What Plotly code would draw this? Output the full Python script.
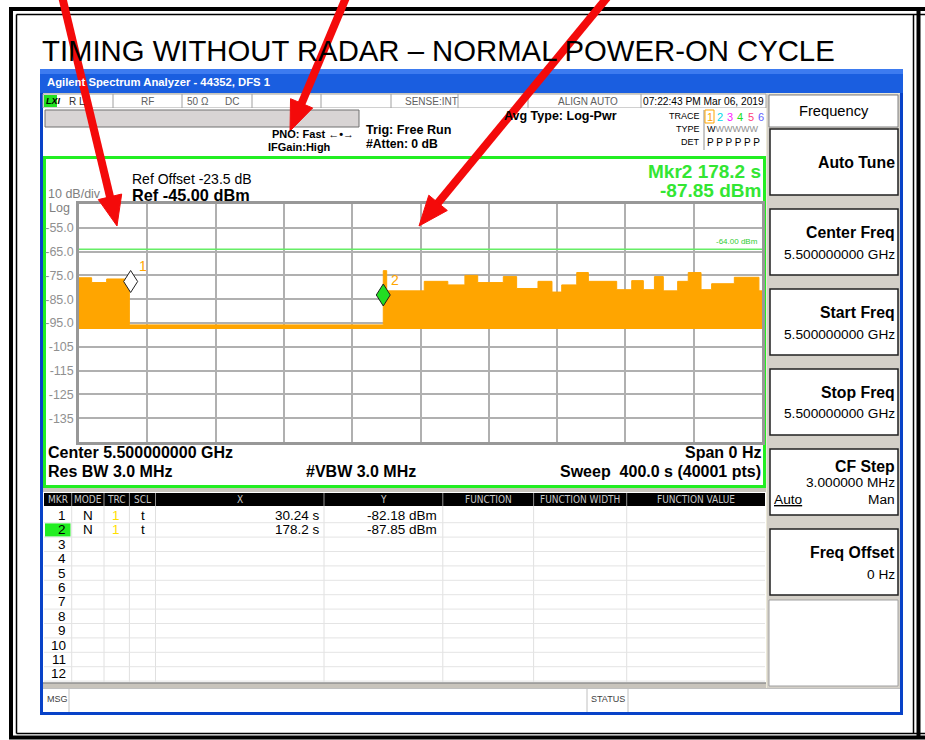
import plotly.graph_objects as go
import numpy as np

W, H = 925, 740

# ---------------- data ----------------
sweep_time_s = 400.0
y_top_dbm, y_bottom_dbm = -45.0, -145.0
y_tick_vals = [-55, -65, -75, -85, -95, -105, -115, -125, -135]
y_tick_text = ["-55.0", "-65.0", "-75.0", "-85.0", "-95.0", "-105", "-115", "-125", "-135"]
x_grid_step_s = 40

# trace envelope: segment start times (s) and peak level (dBm)
seg_start_s = [0, 7.4, 16.2, 29.5, 178.2, 180.2, 202.2, 216, 226, 233.5, 248.5, 256.3,
               268.8, 277, 282.7, 291.5, 298.3, 314.9, 323.7, 330.5, 337, 342.2, 350.6,
               356.8, 364.3, 370.5, 383.8, 398.2]
seg_top_dbm = [-76.0, -78.0, -76.5, -95.8, -73.0, -81.5, -77.5, -79.0, -75.0, -78.0, -75.5, -80.5,
               -77.5, -82.0, -79.0, -73.8, -77.5, -81.0, -77.2, -81.0, -75.5, -81.5, -77.5,
               -73.8, -81.0, -78.5, -75.8, -81.5]
noise_floor_dbm = -97.5
display_line_dbm = -64.0

marker_ids = ["1", "2"]
marker_time_s = [30.24, 178.2]
marker_level_dbm = [-82.18, -87.85]
marker_x_text = ["30.24 s", "178.2 s"]
marker_y_text = ["-82.18 dBm", "-87.85 dBm"]
table_cols = ["MKR", "MODE", "TRC", "SCL", "X", "Y", "FUNCTION", "FUNCTION WIDTH", "FUNCTION VALUE"]

# ---------------- helpers ----------------
def fx(x):
    return x / W

def fy(y):
    return 1 - y / H

shapes = []
annots = []
FONT = "Liberation Sans, Arial, sans-serif"
NARROW = "DejaVu Sans Condensed, Liberation Sans Narrow, Arial Narrow, sans-serif"

def rect(x0, y0, x1, y1, fill=None, line=None, lw=1, layer="below"):
    shapes.append(dict(type="rect", xref="paper", yref="paper",
                       x0=fx(x0), x1=fx(x1), y0=fy(y1), y1=fy(y0),
                       fillcolor=fill if fill else "rgba(0,0,0,0)",
                       line=dict(color=line if line else "rgba(0,0,0,0)", width=lw if line else 0),
                       layer=layer))

def seg(x0, y0, x1, y1, color, lw=1, layer="below"):
    shapes.append(dict(type="line", xref="paper", yref="paper",
                       x0=fx(x0), x1=fx(x1), y0=fy(y0), y1=fy(y1),
                       line=dict(color=color, width=lw), layer=layer))

def txt(x, y, s, size=12, color="black", bold=False, anchor="left", family=FONT):
    if bold:
        s = "<b>" + s + "</b>"
    annots.append(dict(xref="paper", yref="paper", x=fx(x), y=fy(y), text=s,
                       showarrow=False, xanchor=anchor, yanchor="middle",
                       font=dict(size=size, color=color, family=family), borderpad=0))

def arrow(tx0, ty0, tipx, tipy, color="#f40a0a", lw=8, head_len=30, head_half=12):
    d = np.array([tipx - tx0, tipy - ty0], dtype=float)
    u = d / np.linalg.norm(d)
    p = np.array([-u[1], u[0]])
    base = np.array([tipx, tipy]) - head_len * u
    seg(tx0, ty0, base[0] + 2 * u[0], base[1] + 2 * u[1], color, lw, "above")
    a = base + head_half * p
    b = base - head_half * p
    path = "M{},{} L{},{} L{},{} Z".format(fx(tipx), fy(tipy), fx(a[0]), fy(a[1]), fx(b[0]), fy(b[1]))
    shapes.append(dict(type="path", xref="paper", yref="paper", path=path,
                       fillcolor=color, line=dict(color=color, width=1), layer="above"))

# ---------------- page frame ----------------
rect(0, 0, W, H, fill="white")
seg(11, 9, 11, 739, "black", 4)
seg(9, 9, 925, 9, "black", 4)
seg(9, 737.5, 925, 737.5, "black", 4)
seg(16.5, 14.5, 16.5, 733.5, "black", 1.5)
seg(16.5, 14.5, 925, 14.5, "black", 1.5)
seg(16.5, 733.5, 925, 733.5, "black", 1.5)
seg(918.5, 9, 918.5, 739, "black", 4)
seg(913.5, 14.5, 913.5, 733.5, "black", 1.5)

txt(41, 51, "TIMING WITHOUT RADAR – NORMAL POWER-ON CYCLE", 29.3, "black")

# ---------------- analyzer window ----------------
rect(40, 69, 903, 715, fill="#0842c8")
rect(43, 93, 900, 712, fill="#ece9d8")
rect(40, 69, 903, 93, fill="#1a5ee0")
rect(40, 69, 903, 74, fill="#3d7bf0")
txt(46, 82, "Agilent Spectrum Analyzer - 44352, DFS 1", 11.3, "white", True)

# status row
rect(43, 94, 766, 108, fill="white", line="#a0a0a0", lw=1)
rect(44, 95, 57, 107, fill="#22e022")
txt(45, 101, "<i>LXI</i>", 9, "black", True)
for sx in [113, 182, 252, 321, 391, 458, 528, 641]:
    seg(sx, 94, sx, 108, "#a0a0a0", 1)
txt(68, 101, "R L", 10, "#303030")
txt(147, 101, "RF", 10, "#606060", anchor="center")
txt(198, 101, "50 Ω", 10, "#606060", anchor="center")
txt(232, 101, "DC", 10, "#606060", anchor="center")
txt(431, 101, "SENSE:INT", 10, "#606060", anchor="center")
txt(588, 101, "ALIGN AUTO", 10, "#606060", anchor="center")
txt(703, 101, "07:22:43 PM Mar 06, 2019", 10.2, "black", anchor="center")

# second info area
rect(43, 108, 766, 156, fill="white")
rect(45, 110, 359, 127, fill="#d8d4d4", line="#707070", lw=1)
txt(271, 134, "PNO: Fast ←•→", 11, "black", True)
txt(267, 147, "IFGain:High", 11, "black", True)
txt(365, 130, "Trig: Free Run", 12.6, "black", True)
txt(365, 144, "#Atten: 0 dB", 12.2, "black", True)
txt(503, 116, "Avg Type: Log-Pwr", 12.5, "black", True)
txt(701, 116, "TRACE", 9, "black", anchor="right")
txt(701, 129, "TYPE", 9, "black", anchor="right")
txt(701, 142, "DET", 9, "black", anchor="right")
seg(704, 110, 704, 150, "#909090", 1)
rect(705, 110, 714, 123, line="#ffa500", lw=1)
trace_cols = ["#ffa500", "#00d8e8", "#ff20ff", "#20e020", "#ff4080", "#6060ff"]
for i, c in enumerate(trace_cols):
    txt(709.5 + i * 10.3, 117, str(i + 1), 11, c, anchor="center")
txt(706, 129, "W<span style='color:#909090'>WWWWW</span>", 9, "black")
txt(706, 142, "P P P P P P", 10, "black")

# plot panel
rect(43, 156, 766, 488, fill="white")
rect(44.5, 157.5, 764.5, 486.5, line="#22ee22", lw=3)
txt(131, 179, "Ref Offset -23.5 dB", 14, "black")
txt(131, 195, "Ref -45.00 dBm", 16.3, "black", True)
txt(47, 194, "10 dB/div", 12.5, "#808080")
txt(48, 208, "Log", 12.5, "#808080")
txt(762, 171.5, "Mkr2 178.2 s", 19, "#33e633", True, "right")
txt(762, 190.5, "-87.85 dBm", 19, "#33e633", True, "right")
txt(47, 452, "Center 5.500000000 GHz", 16, "black", True)
txt(762, 452, "Span 0 Hz", 16, "black", True, "right")
txt(47, 471, "Res BW 3.0 MHz", 16, "black", True)
txt(305, 471, "#VBW 3.0 MHz", 16, "black", True)
txt(762, 471, "Sweep  400.0 s (40001 pts)", 16, "black", True, "right")

# gap between plot and table
rect(43, 488, 766, 492, fill="#c8c4bc")

# marker table
rect(43, 492, 766, 683, fill="white")
rect(44, 493, 765, 506, fill="black")
col_edges = [44, 71.7, 104, 129.4, 155.5, 324, 442.8, 533.6, 626.7, 765]
for e in col_edges[1:-1]:
    seg(e, 493, e, 506, "#909090", 1)
    seg(e, 506, e, 682, "#e0e0e0", 1)
for i, name in enumerate(table_cols):
    txt((col_edges[i] + col_edges[i + 1]) / 2, 499.5, name, 10, "#c8c8c8", anchor="center",
        family=NARROW)
row_h = 14.4
for r in range(12):
    yc = 515.5 + r * row_h
    seg(44, yc + row_h / 2, 765, yc + row_h / 2, "#e4e4e4", 1)
    if r == 1:
        rect(45, yc - 6.5, 70.5, yc + 6.5, fill="#22ee22")
    txt(67, yc, str(r + 1), 13.5, "black", anchor="right")
for r in range(len(marker_ids)):
    yc = 515.5 + r * row_h
    txt(88, yc, "N", 13.5, "black", anchor="center")
    txt(116.5, yc, "1", 13.5, "#ffe000", anchor="center")
    txt(142.5, yc, "t", 13.5, "black", anchor="center")
    txt(321, yc, marker_x_text[r], 13.5, "black", anchor="right")
    txt(438, yc, marker_y_text[r], 13.5, "black", anchor="right")
rect(43, 683, 766, 688, fill="#c8c4bc")
seg(43, 683, 766, 683, "#909090", 1.5)

# message row
rect(43, 688, 900, 712, fill="white")
seg(43, 688.5, 900, 688.5, "#c0c0c0", 1)
for sx in [69, 587, 628]:
    seg(sx, 688, sx, 712, "#c0c0c0", 1)
txt(46, 699, "MSG", 9, "#404040")
txt(590, 699, "STATUS", 9, "#404040")

# softkey panel
rect(767, 94, 900, 688, fill="#d4d0c8")
rect(769, 95, 898, 127, fill="white", line="#808080", lw=1)
txt(834, 111, "Frequency", 14.7, "black", anchor="center")
keys = [
    (129, ["Auto Tune"]),
    (209, ["Center Freq", "5.500000000 GHz"]),
    (289, ["Start Freq", "5.500000000 GHz"]),
    (369, ["Stop Freq", "5.500000000 GHz"]),
    (449, ["CF Step", "3.000000 MHz", None]),
    (529, ["Freq Offset", "0 Hz"]),
]
for top, lines in keys:
    rect(770, top, 898, top + 66, fill="white", line="#202020", lw=1.5)
    if len(lines) == 1:
        txt(896, top + 34, lines[0], 15.8, "black", True, "right")
    elif len(lines) == 2:
        txt(896, top + 23, lines[0], 15.8, "black", True, "right")
        txt(896, top + 45, lines[1], 13.7, "black", anchor="right")
    else:
        txt(896, top + 17, lines[0], 15.8, "black", True, "right")
        txt(896, top + 33, lines[1], 13.7, "black", anchor="right")
        txt(773, top + 50, "<u>Auto</u>", 13.7, "black")
        txt(896, top + 50, "Man", 13.7, "black", anchor="right")
rect(769, 600, 898, 686, fill="white", line="#a0a0a0", lw=1)

# ---------------- trace ----------------
xs = seg_start_s + [sweep_time_s]
ys = seg_top_dbm + [seg_top_dbm[-1]]
fig = go.Figure()
fig.add_trace(go.Scatter(x=[0, sweep_time_s], y=[noise_floor_dbm, noise_floor_dbm], mode="lines",
                         line=dict(width=0, color="#ffa500"), hoverinfo="skip", showlegend=False))
fig.add_trace(go.Scatter(x=xs, y=ys, mode="lines", line=dict(width=1, color="#ffa500", shape="hv"),
                         fill="tonexty", fillcolor="#ffa500", showlegend=False))

# display line
shapes.append(dict(type="line", xref="x", yref="y", x0=0, x1=sweep_time_s,
                   y0=display_line_dbm, y1=display_line_dbm,
                   line=dict(color="#66ee66", width=1.5), layer="between"))
annots.append(dict(xref="x", yref="y", x=sweep_time_s, y=display_line_dbm, text="-64.00 dBm",
                   showarrow=False, xanchor="right", yanchor="bottom", xshift=-2, yshift=1,
                   font=dict(size=8, color="#33cc33", family=FONT)))

# markers (diamond whose lower tip sits on the marker value)
m_fill = ["white", "#22dd22"]
for i in range(len(marker_ids)):
    shapes.append(dict(type="path", xref="x", yref="y", xsizemode="pixel", ysizemode="pixel",
                       xanchor=marker_time_s[i], yanchor=marker_level_dbm[i],
                       path="M0,0 L7,11 L0,22 L-7,11 Z", fillcolor=m_fill[i],
                       line=dict(color="#202020", width=1), layer="above"))
    annots.append(dict(xref="x", yref="y", x=marker_time_s[i], y=marker_level_dbm[i],
                       text=marker_ids[i], showarrow=False, xanchor="left", yanchor="bottom",
                       xshift=6, yshift=16, font=dict(size=14, color="#ffa500", family=FONT)))

# red arrows
arrow(60, -12, 117, 226)
arrow(350, -12, 290, 131)
arrow(615, -12, 419, 226)

fig.update_layout(
    width=W, height=H, margin=dict(l=0, r=0, t=0, b=0),
    paper_bgcolor="white", plot_bgcolor="rgba(0,0,0,0)",
    shapes=shapes, annotations=annots, showlegend=False,
    xaxis=dict(domain=[fx(79), fx(762)], range=[0, sweep_time_s], dtick=x_grid_step_s, tick0=0,
               showticklabels=False, showgrid=True, gridcolor="#b0b0b0", gridwidth=1.5,
               showline=True, mirror=True, linecolor="#989898", linewidth=2.5, zeroline=False,
               fixedrange=True),
    yaxis=dict(domain=[fy(442), fy(204)], range=[y_bottom_dbm, y_top_dbm],
               tickvals=y_tick_vals, ticktext=y_tick_text, showgrid=True,
               gridcolor="#b0b0b0", gridwidth=1.5, showline=True, mirror=True,
               linecolor="#989898", linewidth=2.5, zeroline=False, ticks="",
               tickfont=dict(size=12.5, color="#909090", family=FONT), fixedrange=True),
)
fig.write_html("out.html", config={"displayModeBar": False},
               post_script="document.body.style.margin='0';document.body.style.overflow='hidden';")
